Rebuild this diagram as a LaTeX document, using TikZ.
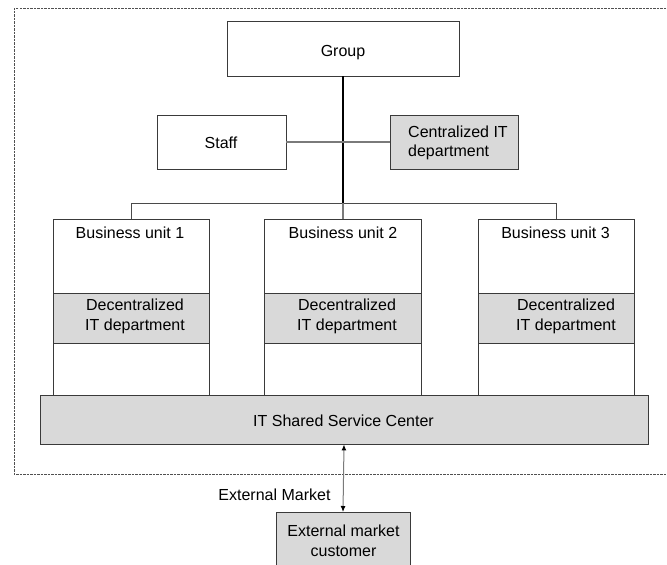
\documentclass[tikz,border=0pt]{standalone}
\usepackage{fontspec}
\setmainfont{Liberation Sans}
\usetikzlibrary{arrows.meta}
\definecolor{boxline}{HTML}{3A3A3A}
\definecolor{fillgray}{HTML}{D9D9D9}
\definecolor{connline}{HTML}{4A4A4A}
\definecolor{lightconn}{HTML}{7A7A7A}
\definecolor{framecol}{HTML}{505050}
\begin{document}
\begin{tikzpicture}[x=1pt,y=-1pt,
  box/.style={draw=boxline, line width=0.9pt, rectangle, inner sep=0pt, fill=white},
  graybox/.style={box, fill=fillgray},
  txt/.style={inner sep=0pt, font=\fontsize{16}{19.5}\selectfont},
  conn/.style={draw=connline, line width=0.9pt},
  lconn/.style={draw=lightconn, line width=1.1pt},
  trunk/.style={draw=black, line width=1.5pt},
  framestyle/.style={draw=framecol, line width=0.8pt, dash pattern=on 2.5pt off 1pt},
  dblarrow/.style={draw=lightconn, line width=1pt,
    {Latex[length=6pt,width=5pt,color=black]}-{Latex[length=6pt,width=5pt,color=black]}},
]
\clip (0,0) rectangle (667,565);
\fill[white] (0,0) rectangle (667,565);

% dashed frame (right side lies beyond the picture)
\draw[framestyle] (680,8) -- (14,8) -- (14,474) -- (680,474);

% top level
\node[box, minimum width=232pt, minimum height=55pt] (group) at (343,48.5) {};
\node[txt, anchor=base] (groupt) at (343,56) {Group};

\node[box, minimum width=129pt, minimum height=54pt] (staff) at (221.5,142) {};
\node[txt, anchor=base] (stafft) at (221,148.3) {Staff};

\node[graybox, minimum width=128pt, minimum height=54pt] (central) at (454,142) {};
\node[txt, anchor=base west] (centralta) at (408,137) {Centralized IT};
\node[txt, anchor=base west] (centraltb) at (408,156.3) {department};

% business units
\node[box, minimum width=156pt, minimum height=176pt] (bu1) at (131,307) {};
\node[box, minimum width=157pt, minimum height=176pt] (bu2) at (343,307) {};
\node[box, minimum width=156pt, minimum height=176pt] (bu3) at (556,307) {};

\node[txt, anchor=base] (bu1t) at (130,238.3) {Business unit 1};
\node[txt, anchor=base] (bu2t) at (343,238.3) {Business unit 2};
\node[txt, anchor=base] (bu3t) at (555.5,238.3) {Business unit 3};

\node[graybox, minimum width=156pt, minimum height=50pt] (dec1) at (131,318) {};
\node[graybox, minimum width=157pt, minimum height=50pt] (dec2) at (343,318) {};
\node[graybox, minimum width=156pt, minimum height=50pt] (dec3) at (556,318) {};

\node[txt, anchor=base] (dec1ta) at (135,310.7) {Decentralized};
\node[txt, anchor=base] (dec1tb) at (135,330.7) {IT department};
\node[txt, anchor=base] (dec2ta) at (347,310.7) {Decentralized};
\node[txt, anchor=base] (dec2tb) at (347,330.7) {IT department};
\node[txt, anchor=base] (dec3ta) at (566,310.7) {Decentralized};
\node[txt, anchor=base] (dec3tb) at (566,330.7) {IT department};

% shared service center
\node[graybox, minimum width=608pt, minimum height=49pt] (itssc) at (344,419.5) {};
\node[txt, anchor=base] (itssct) at (343.5,426) {IT Shared Service Center};

% external customer
\node[graybox, minimum width=134pt, minimum height=75pt, anchor=north] (cust) at (343,512) {};
\node[txt, anchor=base] (custta) at (343.5,536.7) {External market};
\node[txt, anchor=base] (custtb) at (343.5,556) {customer};

\node[txt, anchor=base] (extm) at (274.5,500) {External Market};

% connectors
\coordinate (busc) at (343,203);
\draw[trunk] (group.south) -- (busc);
\draw[lconn] (staff.east) -- (central.west);
\draw[conn] (bu1.north) -- (bu1.north |- busc) -- (bu3.north |- busc) -- (bu3.north);
\draw[lconn] (busc) -- (bu2.north);
\draw[dblarrow] (itssc.south) -- (cust.north);
\end{tikzpicture}
\end{document}
